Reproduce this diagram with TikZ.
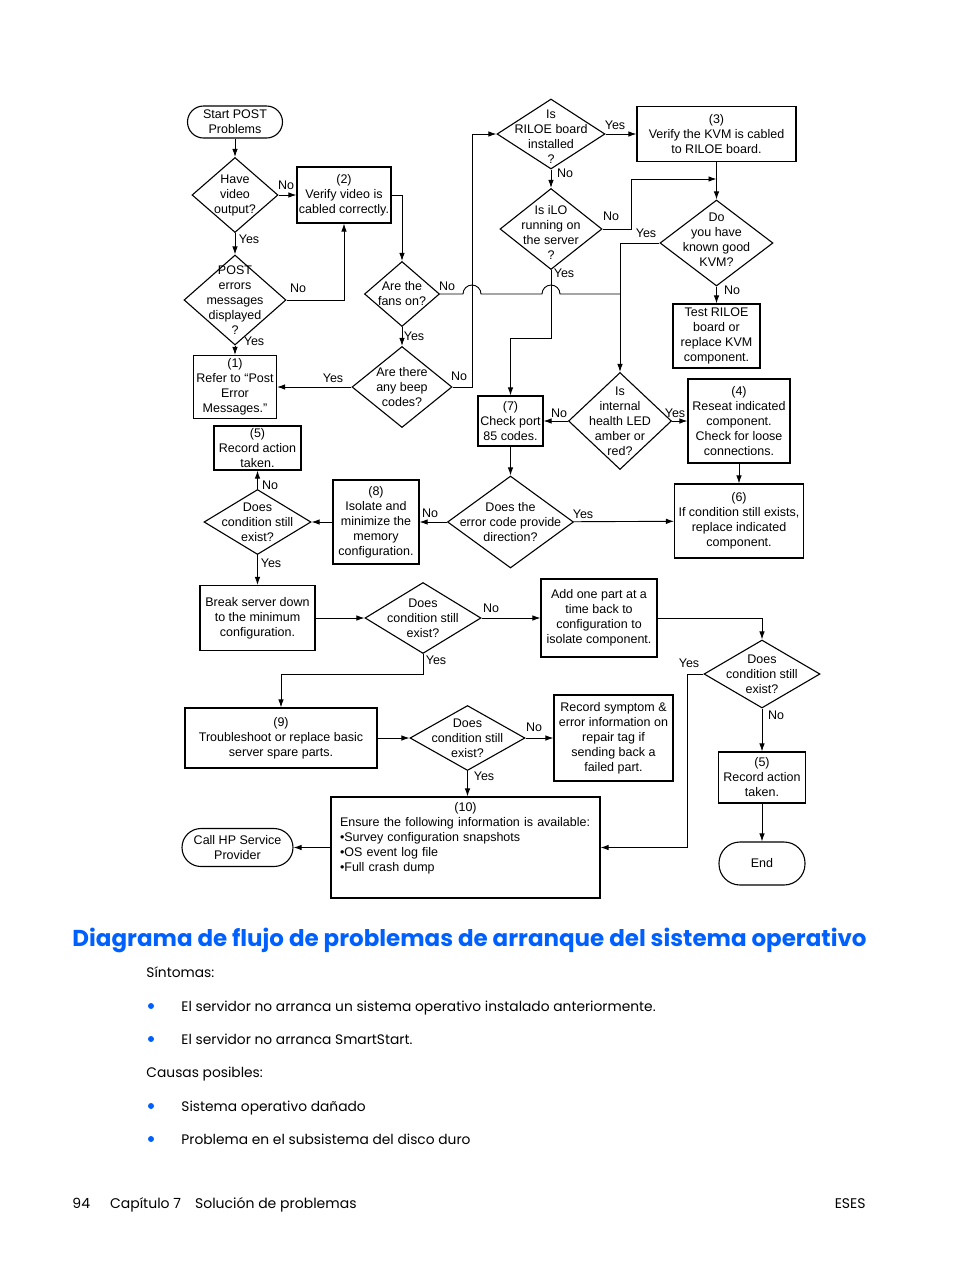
\documentclass[tikz,border=0pt]{standalone}
\usepackage{fontspec}
\setmainfont{Liberation Sans}
\newfontfamily\hpfont{Poppins}
\usepackage{tikz}
\usetikzlibrary{shapes.geometric,arrows.meta,calc}
\definecolor{hpblue}{RGB}{0,96,255}

\begin{document}
\begin{tikzpicture}[
x=1pt,
y=-1pt,
line width=0.9pt,
txt/.style={
  font=\fontsize{12.5}{15}\selectfont,
  align=center,
  inner sep=0pt
  },
box/.style={
  txt,
  draw,
  line width=1.1pt
  },
term/.style={
  box,
  rounded corners=#1
  },
dec/.style={
  draw,
  diamond,
  line width=1.1pt,
  inner sep=0pt
  },
ans/.style={
  font=\fontsize{12.5}{15}\selectfont,
  inner sep=0pt
  },
body/.style={
  font=\hpfont\fontsize{13.8}{17}\selectfont,
  anchor=base west,
  inner sep=0pt
  },
dot/.style={
  circle,
  fill=hpblue,
  inner sep=0pt,
  minimum size=6pt
  },
>={Latex[length=8pt,width=5.5pt]}
]
\useasboundingbox (0,0) rectangle (954,1270);

% left column
\node[term=16pt, minimum width=95pt, minimum height=32pt] (start) at (235,122) {Start POST\\Problems};
\node[dec, minimum width=86pt, minimum height=75pt, label={[txt]center:{Have\\video\\output?}}] (video) at (235,195) {};
\node[box, minimum width=94pt, minimum height=56pt] (cable) at (344,195) {(2)\\Verify video is\\cabled correctly.};
\node[dec, minimum width=102pt, minimum height=90pt, label={[txt]center:{POST\\errors\\messages\\displayed\\?}}] (errs) at (235,300) {};
\node[box, minimum width=83pt, minimum height=63pt] (post1) at (235,387) {(1)\\Refer to “Post\\Error\\Messages.”};
\node[dec, minimum width=75pt, minimum height=65pt, label={[txt]center:{Are the\\fans on?}}] (fans) at (402,294) {};
\node[dec, minimum width=100pt, minimum height=81pt, label={[txt]center:{Are there\\any beep\\codes?}}] (beep) at (402,387) {};

% top right
\node[dec, minimum width=108pt, minimum height=70pt, label={[txt, yshift=-3pt]center:{Is\\RILOE board\\installed\\?}}] (riloe) at (551,134) {};
\node[box, minimum width=159pt, minimum height=55pt] (kvm3) at (716.5,134) {(3)\\Verify the KVM is cabled\\to RILOE board.};
\node[dec, minimum width=102pt, minimum height=81pt, label={[txt, yshift=-3pt]center:{Is iLO\\running on\\the server\\?}}] (ilo) at (551,229) {};
\node[dec, minimum width=113pt, minimum height=86pt, label={[txt, yshift=3pt]center:{Do\\you have\\known good\\KVM?}}] (good) at (716.5,243) {};
\node[box, minimum width=87pt, minimum height=64pt] (test) at (716.5,336) {Test RILOE\\board or\\replace KVM\\component.};
\node[dec, minimum width=103pt, minimum height=97pt, label={[txt]center:{Is\\internal\\health LED\\amber or\\red?}}] (led) at (620,421) {};
\node[box, minimum width=65pt, minimum height=50pt] (port) at (510.5,421) {(7)\\Check port\\85 codes.};
\node[box, minimum width=102pt, minimum height=84pt] (seat) at (739,421) {(4)\\Reseat indicated\\component.\\Check for loose\\connections.};

% middle band
\node[dec, minimum width=126pt, minimum height=92pt, label={[txt]center:{Does the\\error code provide\\direction?}}] (dir) at (510.5,522) {};
\node[box, minimum width=129pt, minimum height=74pt] (repl) at (739,521) {(6)\\If condition still exists,\\replace indicated\\component.};
\node[box, minimum width=86pt, minimum height=84pt] (mem) at (376,522) {(8)\\Isolate and\\minimize the\\memory\\configuration.};
\node[dec, minimum width=107pt, minimum height=65pt, label={[txt]center:{Does\\condition still\\exist?}}] (cond1) at (257.5,522) {};
\node[box, minimum width=87pt, minimum height=44pt] (rec1) at (257.5,448) {(5)\\Record action\\taken.};
\node[box, minimum width=115pt, minimum height=65pt] (brk) at (257.5,618) {Break server down\\to the minimum\\configuration.};
\node[dec, minimum width=116pt, minimum height=71pt, label={[txt]center:{Does\\condition still\\exist?}}] (cond2) at (423,618) {};
\node[box, minimum width=116pt, minimum height=78pt] (add) at (599,618) {Add one part at a\\time back to\\configuration to\\isolate component.};
\node[dec, minimum width=116pt, minimum height=68pt, label={[txt]center:{Does\\condition still\\exist?}}] (cond3) at (762,674) {};

% bottom
\node[box, minimum width=192pt, minimum height=60pt] (trbl) at (281,738) {(9)\\Troubleshoot or replace basic\\server spare parts.};
\node[dec, minimum width=115pt, minimum height=65pt, label={[txt]center:{Does\\condition still\\exist?}}] (cond4) at (467.5,738) {};
\node[box, minimum width=119pt, minimum height=86pt] (sym) at (613.5,738) {Record symptom \&\\error information on\\repair tag if\\sending back a\\failed part.};
\node[box, minimum width=269pt, minimum height=101pt,
  label={[txt, align=left, text width=251pt, anchor=north, yshift=-6pt]north:{\makebox[251pt]{(10)}\\Ensure the following information is available:\\•Survey configuration snapshots\\•OS event log file\\•Full crash dump}}] (info) at (465.5,847.5) {};
\node[term=19pt, minimum width=111pt, minimum height=38pt] (call) at (237.5,847.5) {Call HP Service\\Provider};
\node[box, minimum width=87pt, minimum height=51pt] (rec2) at (762,777.5) {(5)\\Record action\\taken.};
\node[term=21pt, minimum width=86pt, minimum height=43pt] (end) at (762,863.5) {End};

\coordinate (kvmjoin) at (716.5,179);
\coordinate (hopA) at (463,294);
\coordinate (hopB) at (542,294);
\coordinate (ledline) at (620,294);

\draw[->] (start) -- (video);
\draw[->] (video) -- (cable);
\draw[->] (video) -- (errs);
\draw[->] (errs.east) -| (cable.south);
\draw[->] (errs) -- (post1);
\draw[->] (cable.east) -| (fans.north);
\draw[->] (fans) -- (beep);
\draw[->] (beep) -- (post1);
\draw[->] (beep.east) -- ++(20,0) |- (riloe.west);
\draw[->] (riloe) -- (kvm3);
\draw[->] (riloe) -- (ilo);
\draw[->] (ilo.east) -- ++(29,0) |- (kvmjoin);
\draw[->] (kvm3) -- (good);
\draw[->] (good) -- (test);
\draw[->] (good.west) -| (led.north);
\draw (fans.east) -- (hopA) arc[start angle=180, end angle=0, radius=9pt]
  -- (hopB) arc[start angle=180, end angle=0, radius=9pt] -- (ledline);
\draw[->] (ilo.south) -- ++(0,68.5) -| (port.north);
\draw[->] (led) -- (port);
\draw[->] (led) -- (seat);
\draw[->] (seat) -- (repl);
\draw[->] (port) -- (dir);
\draw[->] (dir) -- (repl);
\draw[->] (dir) -- (mem);
\draw[->] (mem) -- (cond1);
\draw[->] (cond1) -- (rec1);
\draw[->] (cond1) -- (brk);
\draw[->] (brk) -- (cond2);
\draw[->] (cond2) -- (add);
\draw[->] (cond2.south) -- ++(0,20) -| (trbl.north);
\draw[->] (add.east) -| (cond3.north);
\draw[->] (cond3.west) -- ++(-16,0) |- (info.east);
\draw[->] (cond3) -- (rec2);
\draw[->] (rec2) -- (end);
\draw[->] (trbl) -- (cond4);
\draw[->] (cond4) -- (sym);
\draw[->] (cond4.south) -- (cond4.south |- info.north);
\draw[->] (info) -- (call);

\foreach \t/\x/\y [count=\i] in {No/286/185, Yes/249/239, No/298/288, Yes/254/341,
  No/447/286, Yes/414/336, Yes/333/378, No/459/376, Yes/615/125, No/565/173,
  No/611/216, Yes/564/273, Yes/646/233, No/732/290, No/559/413, Yes/675/413,
  Yes/583/514, No/430/513, No/270/485, Yes/271/563, No/491/608, Yes/436/660,
  Yes/689/663, No/776/715, No/534/727, Yes/484/776}
  \node[ans] (ans\i) at (\x,\y) {\t};

% text below the chart
\node[body, font=\hpfont\bfseries\fontsize{23}{27}\selectfont, text=hpblue] (title) at (72,946)
  {Diagrama de flujo de problemas de arranque del sistema operativo};
\node[body] (sint) at (146,977) {Síntomas:};
\node[body] (s1) at (181,1011) {El servidor no arranca un sistema operativo instalado anteriormente.};
\node[body] (s2) at (181,1044) {El servidor no arranca SmartStart.};
\node[body] (caus) at (146,1077) {Causas posibles:};
\node[body] (c1) at (181,1111) {Sistema operativo dañado};
\node[body] (c2) at (181,1144) {Problema en el subsistema del disco duro};
\foreach \y [count=\i] in {1006,1039,1106,1139}
  \node[dot] (dot\i) at (151,\y) {};
\node[body, font=\hpfont\fontsize{14}{16}\selectfont] (foot) at (72,1208)
  {94\hspace{20pt}Capítulo 7\hspace{14pt}Solución de problemas};
\node[body, anchor=base east, font=\hpfont\fontsize{14}{16}\selectfont] (eses) at (866,1208) {ESES};
\end{tikzpicture}
\end{document}
